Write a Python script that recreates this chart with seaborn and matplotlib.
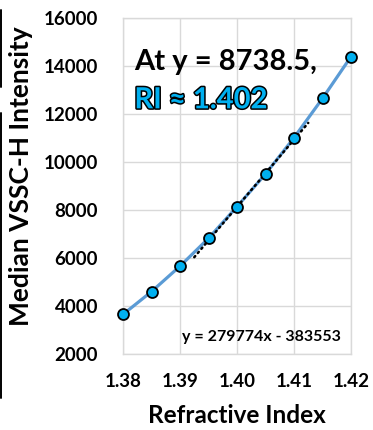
import matplotlib
matplotlib.use("Agg")
import matplotlib.pyplot as plt
import matplotlib.patheffects as pe
from matplotlib.lines import Line2D
import numpy as np
import pandas as pd
import seaborn as sns

# ---- data ----
refractive_index = [1.380, 1.385, 1.390, 1.395, 1.400, 1.405, 1.410, 1.415, 1.420]
median_vssc = [3650, 4600, 5660, 6820, 8140, 9500, 11010, 12650, 14390]
trend_slope = 279774
trend_intercept = -383553
trend_range = [1.3925, 1.4125]
x_ticks = [1.38, 1.39, 1.40, 1.41, 1.42]
y_ticks = [2000, 4000, 6000, 8000, 10000, 12000, 14000, 16000]
annot_line1 = "At y = 8738.5,"
annot_line2 = "RI \u2248 1.402"
equation_text = "y = 279774x - 383553"
x_label = "Refractive Index"
y_label = "Median VSSC-H Intensity"

sns.set_theme(style="white")
plt.rcParams["font.family"] = ["Lato", "DejaVu Sans"]
plt.rcParams["font.weight"] = "bold"

df = pd.DataFrame({"ri": refractive_index, "vssc": median_vssc})
trend_x = np.array(trend_range)
trend_df = pd.DataFrame({"ri": trend_x, "vssc": trend_slope * trend_x + trend_intercept})

fig = plt.figure(figsize=(3.73, 4.30), dpi=100)
ax = fig.add_axes([123 / 373, 1 - 354 / 430, (351 - 123) / 373, (354 - 18) / 430])

grid_c = "#D9D9D9"
ax.set_axisbelow(True)
ax.grid(True, color=grid_c, linewidth=1.0)
for s in ax.spines.values():
    s.set_color(grid_c)
    s.set_linewidth(1.0)

sns.lineplot(data=df, x="ri", y="vssc", ax=ax, color="#5B9BD5", linewidth=2.3,
             zorder=2, sort=True)
sns.lineplot(data=trend_df, x="ri", y="vssc", ax=ax, color="black", linewidth=1.8,
             linestyle=(0, (0.6, 1.6)), zorder=3)
ax.lines[-1].set_dash_capstyle("round")
sns.scatterplot(data=df, x="ri", y="vssc", ax=ax, s=62, color="#00B0F0",
                edgecolor="black", linewidth=1.3, zorder=4, clip_on=False)

ax.set_xlim(1.38, 1.42)
ax.set_ylim(2000, 16000)
ax.set_xticks(x_ticks)
ax.set_xticklabels([f"{v:.2f}" for v in x_ticks])
ax.set_yticks(y_ticks)
ax.set_yticklabels([str(v) for v in y_ticks])
ax.tick_params(axis="both", length=0, labelsize=13.5, colors="black")
ax.tick_params(axis="y", pad=18)
ax.tick_params(axis="x", pad=14)
for lab in ax.get_xticklabels() + ax.get_yticklabels():
    lab.set_fontweight("bold")

ax.set_xlabel(x_label, fontsize=17.5, fontweight="bold", labelpad=10, color="black")
ax.set_ylabel(y_label, fontsize=19, fontweight="bold", color="black")
ax.yaxis.set_label_coords(-0.395, 0.53)

ax.text(0.05, 0.87, annot_line1, transform=ax.transAxes, fontsize=21,
        fontweight="bold", color="black", va="center", ha="left")
ax.text(0.05, 0.755, annot_line2, transform=ax.transAxes, fontsize=21,
        fontweight="bold", color="#00B0F0", va="center", ha="left",
        path_effects=[pe.Stroke(linewidth=2.2, foreground="black"), pe.Normal()])
ax.text(0.955, 0.05, equation_text, transform=ax.transAxes, fontsize=11.5,
        fontweight="bold", color="black", va="center", ha="right")

# left-edge bracket remnant
fig.add_artist(Line2D([1.2 / 373, 1.2 / 373], [1 - 10 / 430, 1 - 87 / 430],
                      color="black", linewidth=1.4, transform=fig.transFigure))
fig.add_artist(Line2D([1.2 / 373, 1.2 / 373], [1 - 113 / 430, 1 - 398 / 430],
                      color="black", linewidth=1.4, transform=fig.transFigure))

fig.savefig("out.png", dpi=100)
